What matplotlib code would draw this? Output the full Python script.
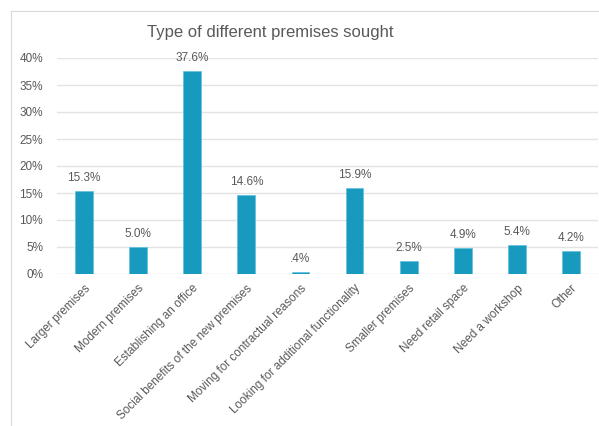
import matplotlib
matplotlib.use("Agg")
import matplotlib.pyplot as plt
from matplotlib.patches import Rectangle
from matplotlib.ticker import FuncFormatter, MultipleLocator

categories = [
    "Larger premises",
    "Modern premises",
    "Establishing an office",
    "Social benefits of the new premises",
    "Moving for contractual reasons",
    "Looking for additional functionality",
    "Smaller premises",
    "Need retail space",
    "Need a workshop",
    "Other",
]
values = [15.3, 5.0, 37.6, 14.6, 0.4, 15.9, 2.5, 4.9, 5.4, 4.2]
value_labels = ["15.3%", "5.0%", "37.6%", "14.6%", ".4%", "15.9%", "2.5%", "4.9%", "5.4%", "4.2%"]

plt.rcParams["font.family"] = ["Liberation Sans", "DejaVu Sans"]
text_color = "#595959"
bar_color = "#1899BE"
grid_color = "#E3E3E3"

fig = plt.figure(figsize=(5.99, 4.26), dpi=100)
fig.patch.set_facecolor("white")

# chart frame
fig.patches.append(Rectangle((11 / 599, -0.1), 1.2, 1 - 11 / 426 + 0.1,
                             transform=fig.transFigure, fill=False,
                             edgecolor="#D9D9D9", linewidth=0.8))

ax = fig.add_axes([57 / 599, 1 - 274 / 426, (598 - 57) / 599, (274 - 58) / 426])
x = range(len(categories))
ax.bar(x, values, width=0.33, color=bar_color, edgecolor="#5FC0DD", linewidth=0.5, zorder=3)

ax.set_xlim(-0.5, len(categories) - 0.5)
ax.set_ylim(0, 40)
ax.yaxis.set_major_locator(MultipleLocator(5))
ax.yaxis.set_major_formatter(FuncFormatter(lambda v, p: f"{v:.0f}%"))
ax.grid(axis="y", color=grid_color, linewidth=1.0, zorder=0)
for s in ax.spines.values():
    s.set_visible(False)
ax.tick_params(axis="both", length=0, labelsize=8.5, colors=text_color)
ax.tick_params(axis="y", pad=10)
ax.tick_params(axis="x", pad=6)
ax.set_xticks(list(x))
ax.set_xticklabels(categories, rotation=45, ha="right", rotation_mode="anchor")

for xi, v, lab in zip(x, values, value_labels):
    ax.annotate(lab, (xi, v), xytext=(0, 5), textcoords="offset points",
                ha="center", va="bottom", fontsize=8.5, color=text_color)

fig.text(0.452, 1 - 32 / 426, "Type of different premises sought", ha="center", va="center",
         fontsize=12, color=text_color)

fig.savefig("out.png", dpi=100)
